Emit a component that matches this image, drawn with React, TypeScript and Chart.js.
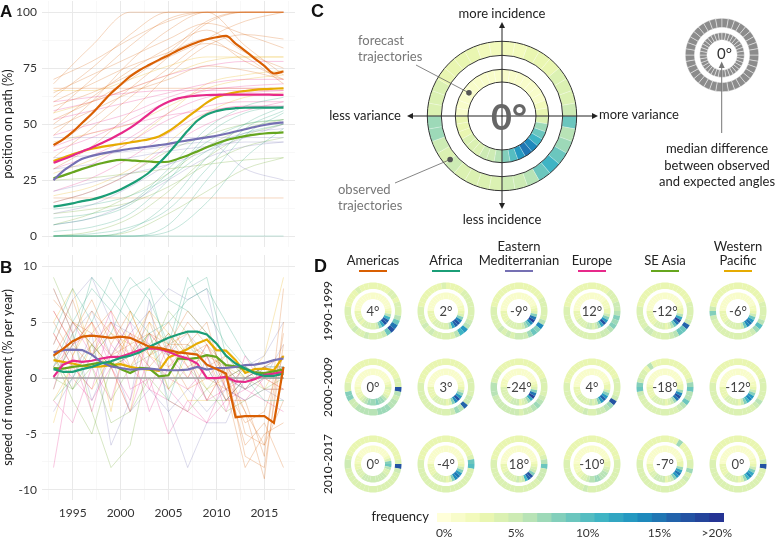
import React, { useEffect, useRef } from "react";
import { Chart, registerables } from "chart.js";
Chart.register(...registerables);

const FONT = "Lato, 'Noto Sans', sans-serif";
const LETTER_FONT = "'Liberation Sans Narrow', 'Liberation Sans', Arial, sans-serif";
Chart.defaults.font.family = FONT;
Chart.defaults.color = "#333";

// ---------------- DATA ----------------
const years = [1993, 1994, 1995, 1996, 1997, 1998, 1999, 2000, 2001, 2002, 2003, 2004, 2005, 2006, 2007, 2008, 2009, 2010, 2011, 2012, 2013, 2014, 2015, 2016, 2017];
const regions = ["Americas", "Africa", "Eastern Mediterranian", "Europe", "SE Asia", "Western Pacific"];
const regionColors = ["#d95f02", "#1b9e77", "#7570b3", "#e7298a", "#66a61e", "#e6ab02"];

// Panel A: position on path (%), regional medians
const americasA = [40.6, 43.2, 46.5, 50.6, 54.6, 59.2, 63.8, 67.6, 71.3, 74.2, 76.5, 78.7, 80.8, 83, 84.9, 86.6, 87.9, 88.8, 89.4, 86, 82.7, 79.3, 76, 72.6, 73.5];
const africaA = [13.1, 13.8, 14.6, 15.6, 16.3, 17.5, 19, 20.8, 23, 25.5, 28.5, 32.5, 37, 42, 47, 51.5, 54.3, 55.8, 56.7, 57.1, 57.3, 57.4, 57.4, 57.4, 57.4];
const emedA = [25, 29, 32, 34.5, 35.8, 36.8, 37.6, 38.3, 39, 39.5, 40, 40.6, 41.2, 42, 42.7, 43.4, 44.1, 44.8, 45.7, 46.7, 47.7, 48.7, 49.6, 50.3, 50.8];
const europeA = [32.7, 34.3, 36, 37.8, 39.6, 41.5, 43.5, 45.8, 48.3, 51.3, 54.7, 57.8, 60, 61.5, 62.3, 62.7, 63, 63.1, 63.2, 63.2, 63.2, 63.2, 63.2, 63.1, 63.1];
const seasiaA = [25.8, 27, 28.5, 30, 31.3, 32.5, 33.5, 34, 33.8, 33.5, 33.3, 33, 33.2, 34.5, 36, 37.8, 39.7, 41.3, 42.8, 43.8, 44.6, 45.3, 45.8, 46.1, 46.3];
const wpacA = [33.5, 35, 36.5, 37.8, 39, 39.8, 40.5, 41.1, 41.8, 42.5, 43.3, 44.5, 46.8, 49.8, 53.2, 56.4, 59.6, 62, 63.3, 64.2, 64.8, 65.3, 65.6, 65.8, 66];

// Panel B: speed of movement (% per year), regional medians
const americasB = [2.0, 2.6, 3.3, 3.7, 3.8, 3.7, 3.6, 3.7, 3.6, 3.2, 2.8, 2.7, 2.5, 2.3, 2.2, 2.1, 1.2, 0.8, 0.4, -3.5, -3.4, -3.4, -3.4, -4.0, 1.0];
const africaB = [0.8, 0.55, 0.55, 0.8, 1.0, 1.3, 1.5, 1.8, 2.0, 2.3, 2.8, 3.2, 3.6, 3.9, 4.15, 4.15, 3.9, 3.1, 2.0, 1.3, 0.85, 0.4, 0.2, 0.2, 0.4];
const emedB = [2.3, 2.5, 2.55, 2.5, 2.1, 1.4, 1.05, 0.9, 0.75, 0.8, 0.85, 0.75, 0.7, 0.7, 0.75, 1.0, 0.75, 0.9, 0.9, 1.0, 1.15, 1.2, 1.35, 1.6, 1.75];
const europeB = [0.1, 1.2, 1.55, 1.45, 1.55, 1.75, 1.9, 1.9, 2.2, 2.5, 2.65, 2.6, 2.35, 2.0, 1.75, 1.3, 0.0, 0.0, 0.1, -0.3, -0.35, -0.1, 0.3, 0.4, 0.55];
const seasiaB = [0.9, 0.85, 1.0, 1.1, 1.25, 1.4, 1.35, 0.8, 0.45, 0.9, 0.85, 0.15, 0.25, 1.75, 1.7, 1.8, 2.05, 1.9, 1.15, 1.05, 0.8, 0.5, 0.45, 0.6, 0.75];
const wpacB = [1.6, 1.45, 1.3, 1.1, 1.0, 1.05, 1.15, 1.25, 1.0, 0.85, 0.75, 0.65, 1.85, 2.2, 2.6, 3.1, 3.45, 2.5, 2.45, 1.6, 0.45, 0.8, 0.85, 0.7, 1.95];

// Country-level trajectories (sampled years)
const faintYearsA = [1993, 1997, 2001, 2005, 2009, 2013, 2017];
const faintAmericasA = [
  [62, 75, 90, 100, 100, 100, 100], [55, 70, 85, 97, 100, 100, 100], [68, 85, 100, 100, 100, 100, 100],
  [45, 60, 78, 92, 100, 85, 72], [50, 62, 74, 84, 92, 82, 75], [60, 68, 76, 82, 88, 78, 70],
  [40, 52, 66, 80, 95, 100, 100], [66, 66, 66, 66, 66, 66, 66], [35, 48, 62, 75, 88, 96, 100],
  [58, 64, 72, 80, 86, 80, 68], [30, 40, 55, 72, 85, 90, 88], [17, 17, 17, 17, 17, 17, 17],
  [64, 72, 80, 88, 95, 90, 84], [48, 56, 64, 70, 76, 74, 70], [52, 60, 70, 82, 96, 100, 100],
  [70, 78, 88, 96, 100, 100, 100],
];
const faintAfricaA = [
  [0, 0, 0, 5, 25, 45, 55], [0, 0, 3, 15, 35, 50, 58], [2, 4, 10, 25, 45, 55, 58], [0, 0, 0, 0, 0, 0, 0],
  [5, 8, 14, 28, 42, 50, 52], [0, 1, 4, 12, 30, 48, 56], [8, 10, 15, 30, 48, 58, 62], [0, 0, 0, 2, 15, 35, 48],
  [12, 14, 18, 26, 38, 46, 50],
];
const faintEmedA = [
  [44, 44, 44, 44, 44, 44, 44], [10, 14, 22, 32, 40, 46, 48], [5, 8, 15, 25, 35, 40, 42],
  [30, 32, 35, 38, 40, 42, 42], [20, 24, 28, 32, 38, 44, 50], [35, 36, 38, 40, 42, 30, 25],
];
const faintEuropeA = [
  [45, 50, 55, 62, 66, 66, 66], [38, 44, 52, 60, 65, 67, 68], [52, 56, 60, 64, 68, 70, 70],
  [30, 36, 44, 55, 62, 64, 65], [25, 32, 42, 52, 58, 60, 60], [60, 62, 64, 65, 65, 65, 65],
  [20, 26, 35, 46, 55, 58, 58], [40, 46, 50, 54, 56, 58, 58], [15, 20, 28, 40, 50, 56, 60],
  [56, 60, 66, 72, 76, 78, 78],
];
const faintSeasiaA = [
  [0, 2, 8, 20, 35, 45, 50], [5, 10, 18, 28, 40, 48, 52], [15, 20, 28, 38, 45, 50, 52],
  [10, 12, 15, 22, 32, 40, 44], [0, 0, 2, 10, 20, 30, 35], [25, 26, 28, 30, 32, 34, 35],
];
const faintWpacA = [
  [55, 60, 66, 72, 78, 80, 80], [28, 34, 42, 55, 68, 72, 74], [18, 22, 30, 42, 55, 62, 64],
  [65, 65, 70, 76, 80, 80, 80], [42, 46, 50, 58, 66, 70, 72],
];

const faintYearsB = [1993, 1995, 1997, 1999, 2001, 2003, 2005, 2007, 2009, 2011, 2013, 2015, 2017];
const faintAmericasB = [
  [6, 3, 5, 2, 4, 3, 5, 2, 3, 1, -7, -8, 3], [8, 4, 7, 3, 6, 2, 3, 4, 1, 2, -5, -6, -2],
  [3, 7, 2, 5, 1, 4, 2, 5, 3, 0, -3, -9, 5], [5, 2, 6, 4, 2, 5, 1, 3, 5, -1, -8, -5, -4],
  [2, 5, 3, 1, 4, 2, 4, 1, 2, -2, -2, -7, 8], [7, 5, 4, 6, 3, 1, 3, 6, 4, 0, -6, -4, -8],
  [4, 1, 3, 5, 2, 6, 2, -1, 0, -1, -4, -3, 2], [1, 3, 1, 2, 3, 4, 3, 3, 2, 1, -3, -6, 4],
];
const faintAfricaB = [
  [1, 5, 8, 6, 9, 7, 3, 9, 6, 3, 1, 0, 0], [0, 3, 9, 7, 5, 8, 2, 8, 9, 2, 0, 1, 1],
  [2, -1, 2, 4, 8, 9, 7, 6, 4, 0, -1, 0, 0], [-2, 0, 3, 1, 2, 4, -2, 3, 1, -2, 0, -2, -2],
  [4, 8, 5, 9, 6, 4, 5, 7, 8, 5, 2, 0, 1],
];
const faintEmedB = [
  [3, 7, 9, 5, 4, 6, 8, 7, 8, 0, 1, 0, 3], [-3, 0, 4, -6, -2, 7, -3, -1, -3, -1, -2, -1, -2],
  [1, 4, -2, 2, -3, -1, -3, -8, -4, -4, 0, 1, 1], [8, 4, 6, 2, 5, 3, 2, 4, 2, -1, 1, 2, 5],
];
const faintEuropeB = [
  [0, 3, 5, 1, -2, 4, 2, 0, 3, -1, 0, 1, 2], [-8, 2, -3, 3, 1, -1, -2, -3, -4, 0, -1, 0, -1],
  [4, 1, -1, 5, 3, -3, 1, 2, -2, 1, -1, 1, 0], [-2, -4, 1, -2, 4, 1, -1, -3, 2, -3, 2, -1, -1],
  [6, 3, 4, 2, 5, -1, 3, 1, -2, -1, -2, 0, 1], [-1, 5, 2, 6, -1, 0, -5, -2, -4, -2, 0, 1, 0],
  [2, 0, -2, 1, -3, 2, 0, -1, 1, -2, -1, -2, -3],
];
const faintSeasiaB = [
  [-1, 4, -3, -8, -6, 2, 6, 4, 0, 0, 1, 0, 1], [2, -2, -5, 1, 2, 4, -1, 1, -1, 1, -1, 1, 2],
  [9, 5, 3, -2, 1, 2, 4, 2, -2, -2, 0, -1, 0], [0, -1, 1, -4, -3, 0, -2, -3, -1, -3, -2, -1, -1],
];
const faintWpacB = [
  [-4, 2, 5, -3, 6, 2, 1, -2, -2, 1, 0, 1, 0], [2, -1, 3, 1, -3, 5, 3, 0, 3, -1, 1, -1, 2],
  [5, 8, 2, 4, 3, 6, 4, 2, -1, 0, 1, 0, -1], [-2, 1, -1, 2, 1, 3, -1, 2, 0, 2, 0, 2, 9],
];

// Axis ticks
const xTicks = [1995, 2000, 2005, 2010, 2015];
const xMinorTicks = [1992.5, 1997.5, 2002.5, 2007.5, 2012.5, 2017.5];
const yTicksA = [0, 25, 50, 75, 100];
const yMinorA = [12.5, 37.5, 62.5, 87.5];
const yTicksB = [-10, -5, 0, 5, 10];
const yMinorB = [-7.5, -2.5, 2.5, 7.5];

// Angle-difference frequencies (% per 10° bin, clockwise from "more variance"), base-20 digits
const binDeg = 10;
const exampleObserved = "9679b9655 444454577 444333322 223334445";
const exampleForecast = "479befda8 655444333 111111111 111111123";
const legendBins = "000000000 000000000 000000000 000000000";

const periods = ["1990-1999", "2000-2009", "2010-2017"];
const medianDiff = [
  [4, 2, -9, 12, -12, -6],
  [0, 3, -24, 4, -18, -12],
  [0, -4, 18, -10, -7, 0],
];
const observedRings = [
  ["469fh9544 454454444 433334333 333344344", "4456db644 444545444 433333334 333344444", "446e89755 545454444 433333333 333333444", "687865544 444444444 433333333 333344455", "445g99654 444554444 433333333 333333344", "446a75444 444444458 533333333 333333344"],
  ["h65667776 666655884 433333333 333333344", "4455g6754 444444444 433333333 333333344", "445676554 555555566 644433333 333333344", "445h76554 454444444 433333333 333333344", "966965444 444444459 854436333 333333347", "444654444 444444444 433333333 333333344"],
  ["h54444444 444444445 543333333 333333334", "a44444444 444444444 433333333 333333349", "955544444 444444444 433333333 333333346", "444444444 454444444 433333333 333333334", "474544444 444444444 433333333 333733334", "h44444444 444444444 433333333 333333335"],
];
const forecastRings = [
  ["36bghc854 444434333 111111111 111111112", "348ehgc64 444443333 111111111 111111122", "48fie9754 444443333 111111111 111111123", "358dhc754 554444333 111111111 111112223", "36cif9643 444433333 111111111 111111123", "359dfe954 444443333 111111111 111111122"],
  ["433467787 776543322 111111111 111111123", "358dhe843 444443333 111111111 111111122", "48fic7543 555444444 222111111 111111123", "358dgd854 544444333 111111111 111111123", "37ehf7543 444443333 211111111 111111123", "358deb853 444443333 111111111 111111122"],
  ["964455555 555544433 222111111 111111248", "358dfe843 444443333 111111111 111111122", "3458hgb54 544444333 111111111 111111112", "345666776 654433222 111111111 111111123", "37cfd8543 555544333 111111111 111111123", "358ceb743 444443333 111111111 111111122"],
];

// Colour legend (1% bins)
const freqLevels = [0, 1, 2, 3, 4, 5, 6, 7, 8, 9, 10, 11, 12, 13, 14, 15, 16, 17, 18, 19];
const colorbarLabels = ["0%", "", "", "", "", "5%", "", "", "", "", "10%", "", "", "", "", "15%", "", "", "", ">20%"];
const colorScale = ["#ffffd9", "#f8fcca", "#f2fabc", "#e9f6b1", "#dbf1b2", "#cdebb4", "#b8e3b6", "#9dd9b8", "#83cfbb", "#6bc6be", "#55bdc1", "#3fb4c4", "#32a6c2", "#2599c1", "#1e89bc", "#2076b3", "#2263ab", "#2353a3", "#24449b", "#253494"];

// ---------------- HELPERS ----------------
const decode = (s: string) => s.replace(/\s/g, "").split("").map((c) => parseInt(c, 20));
const pts = (xs: number[], ys: number[]) => ys.map((y, i) => ({ x: xs[i], y }));
const rgba = (hex: string, a: number) => {
  const n = parseInt(hex.slice(1), 16);
  return `rgba(${(n >> 16) & 255},${(n >> 8) & 255},${n & 255},${a})`;
};
const noPad = (s: any) => { s.paddingTop = 0; s.paddingBottom = 0; s.paddingLeft = 0; s.paddingRight = 0; };

function axisTicks(major: number[], minor: number[]) {
  return {
    afterBuildTicks: (ax: any) => {
      ax.ticks = [...major, ...minor].sort((a, b) => a - b).map((v) => ({ value: v }));
    },
    grid: {
      drawTicks: false,
      color: (c: any) => (major.includes(c.tick?.value) ? "#e9e9e9" : "#f3f3f3"),
      lineWidth: (c: any) => (major.includes(c.tick?.value) ? 1 : 0.6),
    },
    border: { display: false },
  };
}

function lineChartConfig(panel: "A" | "B") {
  const bold = panel === "A" ? [americasA, africaA, emedA, europeA, seasiaA, wpacA] : [americasB, africaB, emedB, europeB, seasiaB, wpacB];
  const faint = panel === "A"
    ? [faintAmericasA, faintAfricaA, faintEmedA, faintEuropeA, faintSeasiaA, faintWpacA]
    : [faintAmericasB, faintAfricaB, faintEmedB, faintEuropeB, faintSeasiaB, faintWpacB];
  const fy = panel === "A" ? faintYearsA : faintYearsB;
  const interp = panel === "A" ? { cubicInterpolationMode: "monotone" } : { tension: 0 };
  const datasets: any[] = [];
  bold.forEach((ys, i) => datasets.push({ label: regions[i], data: pts(years, ys), borderColor: regionColors[i], borderWidth: 2.2, ...interp }));
  if (panel === "B") {
    datasets.push({ label: "zero", data: pts([years[0], years[years.length - 1]], [0, 0]), borderColor: "#a3a3a3", borderWidth: 1.5 });
  }
  faint.forEach((lines, r) => lines.forEach((ys) => datasets.push({ data: pts(fy, ys), borderColor: rgba(regionColors[r], 0.32), borderWidth: 0.8, ...interp })));
  const xa = axisTicks(xTicks, xMinorTicks);
  const ya = panel === "A" ? axisTicks(yTicksA, yMinorA) : axisTicks(yTicksB, yMinorB);
  const yMajor = panel === "A" ? yTicksA : yTicksB;
  return {
    type: "line",
    data: { datasets },
    options: {
      responsive: false,
      animation: false,
      events: [],
      layout: { padding: { left: 0, right: 5, top: panel === "A" ? 1 : 5, bottom: 0 } },
      plugins: { legend: { display: false }, tooltip: { enabled: false } },
      elements: { point: { radius: 0 } },
      scales: {
        x: {
          type: "linear",
          min: 1991.8,
          max: 2018.2,
          ...xa,
          ticks: {
            display: panel === "B",
            autoSkip: false,
            maxRotation: 0,
            padding: 6,
            font: { size: 12 },
            color: "#333",
            callback: (v: number) => (xTicks.includes(v) ? String(v) : ""),
          },
          afterFit: (s: any) => { s.height = panel === "A" ? 3 : 37; noPad(s); },
        },
        y: {
          type: "linear",
          min: panel === "A" ? -4.9 : -10.9,
          max: panel === "A" ? 105 : 11,
          ...ya,
          ticks: {
            autoSkip: false,
            padding: 5,
            font: { size: 12 },
            color: "#333",
            callback: (v: number) => (yMajor.includes(v) ? String(v) : ""),
          },
          title: {
            display: true,
            text: panel === "A" ? "position on path (%)" : "speed of movement (% per year)",
            font: { size: 12.5 },
            color: "#222",
            padding: { top: 0, bottom: 0 },
          },
          afterFit: (s: any) => { s.width = 42; noPad(s); },
        },
      },
    },
  };
}

function ringConfig(outer: number[], inner: number[], R: number, w: [number, number, number], opt: any = {}) {
  const colorOf = opt.color ? () => opt.color : (f: number) => colorScale[Math.min(19, f)];
  const ds = (freq: number[], weight: number) => ({
    data: freq.map(() => binDeg),
    backgroundColor: freq.map(colorOf),
    borderWidth: opt.bw ?? 0,
    borderColor: opt.border ?? "#fff",
    weight,
  });
  const innerR = R - (w[0] + w[1] + w[2]);
  return {
    type: "doughnut",
    data: { datasets: [ds(outer, w[0]), { data: [360], backgroundColor: "rgba(0,0,0,0)", borderWidth: 0, weight: w[1] }, ds(inner, w[2])] },
    options: {
      responsive: false,
      animation: false,
      events: [],
      rotation: 90,
      radius: R,
      cutout: (innerR / R) * 100 + "%",
      layout: { padding: 0 },
      plugins: { legend: { display: false }, tooltip: { enabled: false } },
    },
    plugins: opt.plugins || [],
  };
}

function drawArrowHead(ctx: CanvasRenderingContext2D, x: number, y: number, ang: number, len = 6, half = 3) {
  ctx.beginPath();
  ctx.moveTo(x, y);
  ctx.lineTo(x - len * Math.cos(ang) + half * Math.sin(ang), y - len * Math.sin(ang) - half * Math.cos(ang));
  ctx.lineTo(x - len * Math.cos(ang) - half * Math.sin(ang), y - len * Math.sin(ang) + half * Math.cos(ang));
  ctx.closePath();
  ctx.fill();
}

const cDecor = {
  id: "cDecor",
  afterDatasetsDraw(chart: any) {
    const o: any = chart.getDatasetMeta(0).data[0];
    const i: any = chart.getDatasetMeta(2).data[0];
    const cx = o.x, cy = o.y;
    const ctx: CanvasRenderingContext2D = chart.ctx;
    ctx.save();
    ctx.strokeStyle = "#333";
    ctx.lineWidth = 1;
    [o.outerRadius, o.innerRadius, i.outerRadius, i.innerRadius].forEach((r: number) => {
      ctx.beginPath();
      ctx.arc(cx, cy, r, 0, Math.PI * 2);
      ctx.stroke();
    });
    // axes arrows
    ctx.strokeStyle = "#222";
    ctx.fillStyle = "#222";
    ctx.lineWidth = 1;
    ctx.beginPath();
    ctx.moveTo(cx, cy - 91); ctx.lineTo(cx, cy + 90);
    ctx.moveTo(cx - 92, cy); ctx.lineTo(cx + 93, cy);
    ctx.stroke();
    drawArrowHead(ctx, cx, cy - 94, -Math.PI / 2);
    drawArrowHead(ctx, cx, cy + 93, Math.PI / 2);
    drawArrowHead(ctx, cx - 95, cy, Math.PI);
    drawArrowHead(ctx, cx + 96, cy, 0);
    // leader lines
    const fr = (i.outerRadius + i.innerRadius) / 2, or = (o.outerRadius + o.innerRadius) / 2;
    const fa = (-145 * Math.PI) / 180, oa = (140 * Math.PI) / 180;
    const fx = cx + fr * Math.cos(fa), fy = cy + fr * Math.sin(fa);
    const ox = cx + or * Math.cos(oa), oy = cy + or * Math.sin(oa);
    ctx.strokeStyle = "#666";
    ctx.lineWidth = 0.8;
    ctx.beginPath();
    ctx.moveTo(cx - 86, cy - 51); ctx.lineTo(fx, fy);
    ctx.moveTo(cx - 107, cy + 67); ctx.lineTo(ox, oy);
    ctx.stroke();
    ctx.fillStyle = "#555";
    [[fx, fy], [ox, oy]].forEach(([x, y]) => { ctx.beginPath(); ctx.arc(x, y, 2.8, 0, Math.PI * 2); ctx.fill(); });
    ctx.restore();
  },
};

function colorbarConfig() {
  return {
    type: "bar",
    data: {
      labels: colorbarLabels,
      datasets: [{ data: freqLevels.map(() => 1), backgroundColor: freqLevels.map((l) => colorScale[l]), barPercentage: 1, categoryPercentage: 1, borderWidth: 0 }],
    },
    options: {
      responsive: false,
      animation: false,
      events: [],
      layout: { padding: { left: 12, right: 13, top: 5, bottom: 0 } },
      plugins: { legend: { display: false }, tooltip: { enabled: false } },
      scales: {
        x: {
          grid: { display: false, drawTicks: false },
          border: { display: false },
          ticks: { autoSkip: false, maxRotation: 0, padding: 4, font: { size: 12 }, color: "#333" },
          afterFit: (s: any) => { s.height = 15; noPad(s); },
        },
        y: { display: false, min: 0, max: 1 },
      },
    },
  };
}

// ---------------- COMPONENTS ----------------
function ChartBox({ make, left, top, width, height }: { make: () => any; left: number; top: number; width: number; height: number }) {
  const ref = useRef<HTMLCanvasElement>(null);
  useEffect(() => {
    const chart = new Chart(ref.current as HTMLCanvasElement, make());
    return () => chart.destroy();
  }, []);
  return <canvas ref={ref} width={width} height={height} style={{ position: "absolute", left, top, width, height }} />;
}

function T({ x, y, s = 13, c = "#222", a = "start", w = 400, f = FONT, rot = false, children }: any) {
  const lh = Math.round(s * 1.2);
  const tx = a === "middle" ? "-50%" : a === "end" ? "-100%" : "0";
  const style: any = {
    position: "absolute", left: x, top: y - lh / 2, fontSize: s, lineHeight: lh + "px", color: c,
    fontWeight: w, fontFamily: f, whiteSpace: "nowrap", transform: `translateX(${tx})`,
  };
  if (rot) style.transform = "translateX(-50%) rotate(-90deg)";
  return <div style={style}>{children}</div>;
}

const colX = [373, 446, 519, 592, 665, 738];
const rowY = [311, 387, 464];
const colLabels = [["Americas"], ["Africa"], ["Eastern", "Mediterranian"], ["Europe"], ["SE Asia"], ["Western", "Pacific"]];

export default function App() {
  const rings: any[] = [];
  rowY.forEach((cy, r) =>
    colX.forEach((cx, c) => {
      rings.push(
        <ChartBox key={`ring-${r}-${c}`} left={cx - 32} top={cy - 32} width={64} height={64}
          make={() => ringConfig(decode(observedRings[r][c]), decode(forecastRings[r][c]), 28.5, [6.5, 3.5, 6.5])} />
      );
      rings.push(<T key={`deg-${r}-${c}`} x={cx} y={cy} s={13} c="#444" a="middle">{`${medianDiff[r][c]}°`}</T>);
    })
  );
  return (
    <div style={{ position: "absolute", left: 0, top: 0, width: 775, height: 537, background: "#fff", overflow: "hidden", fontFamily: FONT }}>
      <ChartBox make={() => lineChartConfig("A")} left={0} top={0} width={300} height={250} />
      <ChartBox make={() => lineChartConfig("B")} left={0} top={250} width={300} height={287} />
      <ChartBox make={() => ringConfig(decode(exampleObserved), decode(exampleForecast), 74.7, [14, 14, 12.7], { bw: 0.5, border: "rgba(255,255,255,0.45)", plugins: [cDecor] })} left={330} top={16} width={344} height={200} />
      <ChartBox make={() => ringConfig(decode(legendBins), decode(legendBins), 36.7, [9.2, 5.2, 7.3], { color: "#8c8c8c", bw: 0.8, border: "rgba(255,255,255,0.55)" })} left={681} top={14} width={82} height={82} />
      <ChartBox make={colorbarConfig} left={425} top={508} width={312} height={29} />
      {rings}

      <svg width={775} height={537} style={{ position: "absolute", left: 0, top: 0, pointerEvents: "none" }}>
        <line x1={721.7} y1={133} x2={721.7} y2={66} stroke="#777" strokeWidth={1} />
        <polygon points="721.7,61.5 718.7,68 724.7,68" fill="#777" />
      </svg>

      {/* panel letters */}
      <T x={0} y={12} s={17} w={700} f={LETTER_FONT} c="#111">A</T>
      <T x={0} y={268} s={17} w={700} f={LETTER_FONT} c="#111">B</T>
      <T x={311} y={11} s={18} w={700} f={LETTER_FONT} c="#111">C</T>
      <T x={314} y={266} s={18} w={700} f={LETTER_FONT} c="#111">D</T>

      {/* panel C annotations */}
      <T x={502} y={12.5} a="middle">more incidence</T>
      <T x={502} y={219} a="middle">less incidence</T>
      <T x={401} y={115} a="end">less variance</T>
      <T x={599} y={114}>more variance</T>
      <T x={358} y={40} c="#777">forecast</T>
      <T x={358} y={56} c="#777">trajectories</T>
      <T x={338} y={189} c="#777">observed</T>
      <T x={338} y={205} c="#777">trajectories</T>
      <T x={491} y={116} s={36} w={700} c="#666">0°</T>
      <T x={717} y={53} s={15} c="#333">0°</T>
      <T x={717} y={148} a="middle">median difference</T>
      <T x={717} y={165} a="middle">between observed</T>
      <T x={717} y={181} a="middle">and expected angles</T>

      {/* panel D labels */}
      {colLabels.map((lines, c) => (
        <React.Fragment key={`cl-${c}`}>
          {lines.map((t, k) => (
            <T key={k} x={colX[c]} y={260 - (lines.length - 1 - k) * 14} a="middle">{t}</T>
          ))}
          <div style={{ position: "absolute", left: colX[c] - 14, top: 270, width: 28, height: 2, background: regionColors[c] }} />
        </React.Fragment>
      ))}
      {periods.map((p, r) => (
        <T key={`row-${r}`} x={328} y={rowY[r]} s={12} rot a="middle">{p}</T>
      ))}
      <T x={429} y={516} a="end">frequency</T>
    </div>
  );
}
